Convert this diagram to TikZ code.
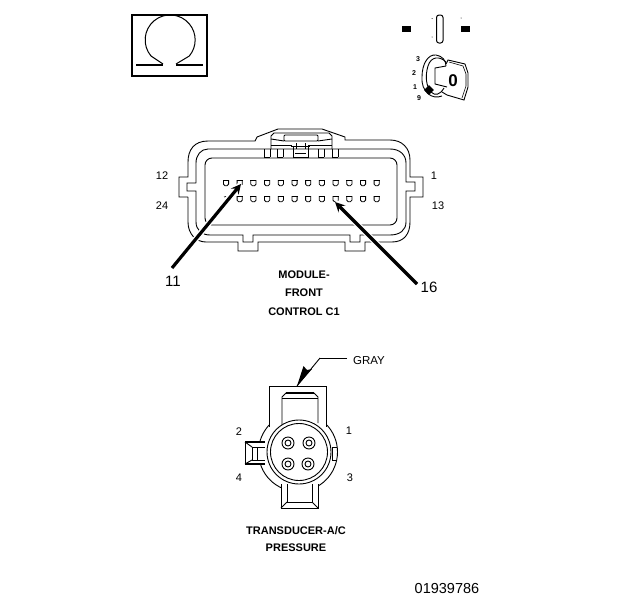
\documentclass[tikz,border=0pt]{standalone}
\usepackage{fontspec}
\setmainfont{Liberation Sans}
\usetikzlibrary{arrows,positioning}

\tikzset{
	contour/.style={line width=0.9pt, black},
	heavy/.style={line width=3.2pt, black},
	pinno/.style={font=\fontsize{11}{13}\selectfont, inner sep=0pt},
	callout/.style={font=\fontsize{15}{18}\selectfont, inner sep=0pt},
	caption/.style={font=\fontsize{11}{13}\bfseries\selectfont, inner sep=0pt},
	keyno/.style={font=\fontsize{7}{8}\bfseries\selectfont, inner sep=0pt},
	pincup/.pic={
		\draw[line width=0.8pt] (-3,-2.8) -- (3,-2.8);
		\draw[line width=0.8pt, rounded corners=1.6pt] (-2.6,-2.8) -- (-2.6,2.8) -- (2.6,2.8) -- (2.6,-2.8);
	}
}

\begin{document}
\begin{tikzpicture}[x=1pt, y=-1pt, >=stealth, line cap=butt]
	\useasboundingbox (0,0) rectangle (624,600);

	% ohm meter
	\draw[line width=1.6pt] (132,15) rectangle (207,76);
	\draw[line width=1.6pt] (136,65) -- (163,65);
	\draw[line width=1.6pt] (176,65) -- (203,65);
	\draw[line width=1pt] (163,64) -- (151,56) arc (140:400:25) -- (176,64);

	% ignition off
	\fill (402,26) rectangle (411,32);
	\fill (461,26) rectangle (470,32);
	\draw[line width=1pt, rounded corners=2.5pt] (436.5,15) rectangle (443,43);
	\fill (432,18.5) circle (0.5) (432,37) circle (0.5) (461,18) circle (0.5);

	\draw[contour] (442,96) .. controls (432,100) and (421,92) .. (422,77)
		.. controls (422,64) and (428,54) .. (436,55)
		.. controls (442,56) and (446,60) .. (446,66);
	\draw[contour] (446,66) -- (435,68) -- (435,84) -- (447,87);
	\draw[contour] (446,62) .. controls (440,56) and (431,56) .. (428,66)
		.. controls (425,76) and (426,86) .. (431,92)
		.. controls (435,96) and (440,95) .. (444,88);
	\draw[contour] (446,64) -- (448,60) -- (465,64) -- (468,73) -- (468,87) -- (464,100) -- (447,95) -- (442,92);
	\draw[line width=0.6pt] (449,62) -- (463,66) -- (466,74) -- (466,86) -- (462,98);
	\fill[rotate around={45:(429,90)}] (425.5,86.5) rectangle (432.5,93.5);
	\node[keyno] (key3) at (418,59) {3};
	\node[keyno] (key2) at (414,73) {2};
	\node[keyno] (key1) at (415,87) {1};
	\node[keyno] (key0) at (419,98) {9};
	\node[font=\fontsize{17}{18}\bfseries\selectfont, inner sep=0pt] (keyO) at (453,81) {0};

	% module connector
	\draw[contour] (188,197) -- (179,197) -- (179,177) -- (188,177) -- (188,162)
		.. controls (188,150) and (194,141) .. (208,141) -- (255,141)
		-- (257,137) -- (278,129) -- (322,129) -- (345,137) -- (345,140) -- (390,140)
		.. controls (402,140) and (410,148) .. (410,160)
		-- (410,177) -- (423,177) -- (423,197) -- (410,197) -- (410,222)
		.. controls (410,234) and (404,242) .. (392,242)
		-- (365,242) -- (365,251) -- (345,251) -- (345,242) -- (258,242) -- (258,251) -- (238,251) -- (238,242) -- (206,242)
		.. controls (196,242) and (188,234) .. (188,222) -- (188,197);
	\draw[contour] (196,183) -- (187,183) -- (187,191) -- (196,191) -- (196,222)
		.. controls (196,230) and (202,235) .. (210,235)
		-- (243,235) -- (243,242) -- (253,242) -- (253,235) -- (350,235) -- (350,242) -- (360,242) -- (360,235) -- (390,235)
		.. controls (400,235) and (406,230) .. (406,222)
		-- (406,191) -- (415,191) -- (415,182) -- (406,182) -- (406,163)
		.. controls (406,155) and (400,149) .. (390,149)
		-- (208,149) .. controls (201,149) and (196,155) .. (196,163) -- (196,183);
	\draw[contour, rounded corners=7pt] (205,158) rectangle (397,225);

	% latch
	\draw[contour] (271,149) -- (271,136) -- (274,133) -- (329,133) -- (332,136) -- (332,149);
	\draw[contour, rounded corners=1pt] (284,135) rectangle (318,141);
	\draw[contour] (271,145) -- (292,145) (308,145) -- (332,145);
	\draw[contour] (271,139) -- (284,141) (332,139) -- (318,141);
	\foreach \x in {264,277,318,332} {
		\draw[contour] (\x,149) -- (\x,157) (\x+6,149) -- (\x+6,157);
		\draw[line width=1.4pt] (\x,157.5) -- (\x+6,157.5);
	}
	\draw[contour] (293,146) -- (293,157) -- (308,157) -- (308,146);
	\draw[contour] (291,146) -- (310,146) (296,143) -- (296,149) (305,143) -- (305,149);
	\draw[contour] (295,153) -- (306,153);

	\foreach \x in {1,...,11} {
		\pic at ({226+13.7*\x},183) {pincup};
		\pic at ({226+13.7*\x},199) {pincup};
	}
	\pic at (226,183) {pincup};
	\draw[line width=0.7pt] (224,197) -- (226,196.5);

	% leaders
	\coordinate (tail11) at (172,268);
	\coordinate (tip11) at (241,184);
	\coordinate (tail16) at (417,284);
	\coordinate (tip16) at (335,202);
	\draw[white, line width=6pt] (tail11) -- (tip11);
	\draw[white, line width=6pt] (tail16) -- (tip16);
	\draw[heavy, ->] (tail11) -- (tip11);
	\draw[heavy, ->] (tail16) -- (tip16);

	\node[pinno] (m12) at (162,176) {12};
	\node[pinno] (m24) at (162,206) {24};
	\node[pinno] (m1) at (434,176) {1};
	\node[pinno] (m13) at (438,206) {13};
	\node[callout] (l11) at (173,281) {11};
	\node[callout] (l16) at (429,287) {16};
	\node[caption] (mod1) at (304,275) {MODULE-};
	\node[caption] (mod2) at (304,293) {FRONT};
	\node[caption] (mod3) at (304,312) {CONTROL C1};

	% transducer connector
	\draw[contour] (298,452) circle (39.5);

	\draw[contour, fill=white] (269,427) -- (269,386) -- (326,386) -- (326,427);
	\draw[contour, fill=white] (282,425) -- (282,397) -- (286,393) -- (314,393) -- (318,397) -- (318,423);
	\draw[line width=1.6pt] (286,393) -- (314,393);
	\draw[contour] (282,398) -- (318,398);

	\draw[contour, fill=white] (281,484) -- (281,508) -- (318,508) -- (318,484);
	\draw[contour] (287,484) -- (287,502) -- (312,502) -- (312,484);
	\draw[contour] (281,508) -- (287,502) (318,508) -- (312,502);

	\draw[contour, fill=white] (265,442) -- (245,442) -- (245,464) -- (265,464);
	\draw[line width=1.6pt] (245,442) -- (265,442) (245,464) -- (265,464);
	\draw[contour] (265,447) -- (252,447) -- (252,460) -- (265,460);
	\draw[contour] (257,447) -- (257,460);
	\draw[contour] (245,442) -- (252,447) (245,464) -- (252,460);
	\draw[contour] (332,447) -- (337,447) (332,460) -- (337,460) (332,447) -- (332,460);

	\draw[contour, fill=white] (299,452) circle (32);
	\draw[contour] (299,452) circle (28.5);
	\foreach \x/\y in {288/443, 309/443, 288/464, 308/464} {
		\draw[contour] (\x,\y) circle (6);
		\draw[contour] (\x,\y) circle (3);
	}

	\node[font=\fontsize{11.5}{13}\selectfont, inner sep=0pt] (gray) at (369,361) {GRAY};
	\coordinate (bend) at (320,358);
	\coordinate (tipgray) at (297,386);
	\draw[contour] (347,358) -- (bend);
	\fill (tipgray) -- (303.5,366) -- (307,370) -- (312,369) -- cycle;
	\draw[contour] (bend) -- (tipgray);

	\node[pinno] (t2) at (239,432) {2};
	\node[pinno] (t1) at (349,431) {1};
	\node[pinno] (t4) at (239,478) {4};
	\node[pinno] (t3) at (350,478) {3};
	\node[caption] (tr1) at (296,531) {TRANSDUCER-A/C};
	\node[caption] (tr2) at (296,548) {PRESSURE};

	\node[font=\fontsize{14.5}{16}\selectfont, inner sep=0pt] (figno) at (447,588) {01939786};
\end{tikzpicture}
\end{document}
